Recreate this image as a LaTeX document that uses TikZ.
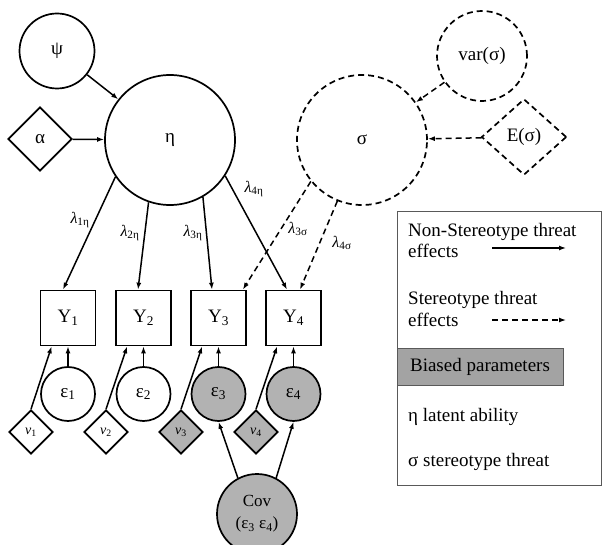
\documentclass[tikz,border=0pt]{standalone}
\usepackage{fontspec}
\setmainfont{Liberation Serif}
\usetikzlibrary{shapes.geometric,arrows.meta}
\definecolor{biasfill}{gray}{0.70}
\definecolor{boxfill}{gray}{0.64}
\definecolor{framegray}{gray}{0.35}
\begin{document}
\begin{tikzpicture}[x=1pt,y=-1pt,
  txt/.style={font=\fontsize{19}{22}\selectfont},
  lat/.style={circle,draw,line width=1.7pt,inner sep=0pt,txt},
  dsh/.style={dash pattern=on 6pt off 4pt},
  sq/.style={rectangle,draw,line width=1.7pt,minimum size=55pt,inner sep=0pt,txt},
  dia/.style={diamond,draw,line width=1.7pt,inner sep=0pt,txt},
  nu/.style={dia,minimum width=44pt,minimum height=44pt,font=\fontsize{14}{16}\selectfont},
  biased/.style={fill=biasfill},
  arr/.style={line width=1.5pt,-{Latex[length=7pt,width=5pt]}},
  lab/.style={font=\fontsize{16}{18}\selectfont,inner sep=0pt},
  leg/.style={font=\fontsize{19}{19}\selectfont,inner sep=0pt,anchor=base west}
]
\useasboundingbox (0,0) rectangle (602,545);

% top latent variables
\node[lat,minimum size=75pt] (psi) at (57,51) {ψ};
\node[dia,minimum width=64pt,minimum height=64pt] (alpha) at (40,139) {α};
\node[lat,minimum size=130pt] (eta) at (170,140) {η};
\node[lat,dsh,minimum size=130pt] (sigma) at (362,140) {σ};
\node[lat,dsh,minimum size=90pt] (var) at (482,56) {var(σ)};
\node[dia,dsh,minimum width=85pt,minimum height=76pt] (E) at (524,137) {E(σ)};

% observed
\foreach \i/\x in {1/68,2/143.5,3/218.5,4/293.5}{
  \node[sq] (Y\i) at (\x,318) {Y\textsubscript{\i}};
}
\node[lat,minimum size=54pt] (e1) at (68,394) {ε\textsubscript{1}};
\node[lat,minimum size=54pt] (e2) at (143.5,394) {ε\textsubscript{2}};
\node[lat,biased,minimum size=54pt] (e3) at (218.5,394) {ε\textsubscript{3}};
\node[lat,biased,minimum size=54pt] (e4) at (293.5,394) {ε\textsubscript{4}};
\node[nu] (n1) at (31,432) {\itshape ν\textsubscript{\upshape 1}};
\node[nu] (n2) at (106,432) {\itshape ν\textsubscript{\upshape 2}};
\node[nu,biased] (n3) at (181,432) {\itshape ν\textsubscript{\upshape 3}};
\node[nu,biased] (n4) at (256,432) {\itshape ν\textsubscript{\upshape 4}};
\node[lat,biased,minimum size=80pt,align=center,font=\fontsize{17}{22}\selectfont] (cov) at (257,514) {Cov\\(ε\textsubscript{3} ε\textsubscript{4})};

% arrows into eta / sigma
\draw[arr] (psi) -- (eta);
\draw[arr] (alpha) -- (eta);
\draw[arr,dsh] (var) -- (sigma);
\draw[arr,dsh] (E) -- (sigma);

% loadings
\draw[arr] (eta.-146) -- ([xshift=-5pt]Y1.north);
\draw[arr] (eta.-109) -- ([xshift=-5.5pt]Y2.north);
\draw[arr] (eta.-60) -- ([xshift=-6.5pt]Y3.north);
\draw[arr] (eta.-33) -- ([xshift=-6.5pt]Y4.north);
\draw[arr,dsh] (sigma.-141) -- ([xshift=-4pt]Y3.north east);
\draw[arr,dsh] (sigma.-112) -- ([xshift=6.5pt]Y4.north);

\node[lab] (l1) at (80,220) {\itshape λ\textsubscript{\upshape 1η}};
\node[lab] (l2) at (130,233) {\itshape λ\textsubscript{\upshape 2η}};
\node[lab] (l3) at (193,233) {\itshape λ\textsubscript{\upshape 3η}};
\node[lab] (l4) at (254,189) {\itshape λ\textsubscript{\upshape 4η}};
\node[lab] (l5) at (298,229) {\itshape λ\textsubscript{\upshape 3σ}};
\node[lab] (l6) at (342,243) {\itshape λ\textsubscript{\upshape 4σ}};

% errors and intercepts
\foreach \i in {1,2,3,4}{
  \draw[arr] (e\i) -- (Y\i);
  \draw[arr] (n\i.north) -- ([xshift=12pt]Y\i.south west);
}
\draw[arr] (cov.118) -- (e3.south);
\draw[arr] (cov.62) -- (e4.south);

% legend
\draw[framegray,line width=1pt] (397,212) rectangle (601.5,485);
\node[leg] (t1a) at (408,237) {Non-Stereotype threat};
\node[leg] (t1b) at (408,258) {effects};
\coordinate (a1s) at (492,248);
\coordinate (a1e) at (566,248);
\draw[arr,line width=1.3pt] (a1s) -- (a1e);
\node[leg] (t2a) at (408,305) {Stereotype threat};
\node[leg] (t2b) at (408,326) {effects};
\coordinate (a2s) at (492,320);
\coordinate (a2e) at (566,320);
\draw[arr,dsh,line width=1.3pt] (a2s) -- (a2e);
\node[draw=framegray,fill=boxfill,line width=1pt,minimum width=166pt,minimum height=37pt,font=\fontsize{19}{19}\selectfont,inner sep=0pt] (bias) at (480,366.5) {Biased parameters};
\node[leg] (t3) at (408,421) {η latent ability};
\node[leg] (t4) at (408,466) {σ stereotype threat};
\end{tikzpicture}
\end{document}
